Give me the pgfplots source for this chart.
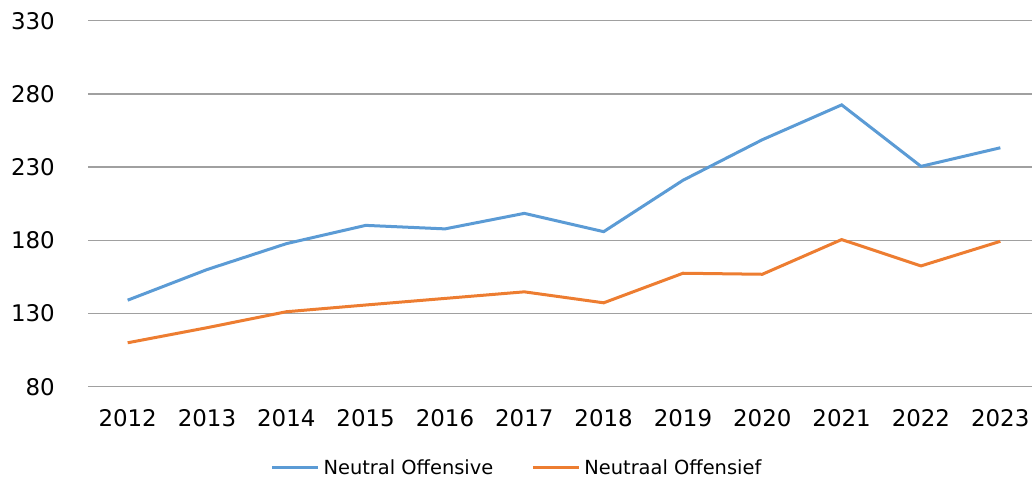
\documentclass[border=0pt]{standalone}
\usepackage{pgfplots}
\pgfplotsset{compat=1.18}
\usepackage{fontspec}
\setmainfont{DejaVu Sans}
\definecolor{cblue}{RGB}{91,155,213}
\definecolor{corange}{RGB}{237,125,49}
\definecolor{cgrid}{RGB}{160,160,160}
\begin{document}
\begin{tikzpicture}
\useasboundingbox (-88bp,-92.3bp) rectangle (944bp,386.7bp);
\begin{axis}[
  scale only axis,
  width=952bp, height=366bp,
  xmin=2011.5, xmax=2023.5,
  ymin=80, ymax=330,
  xtick={2012,...,2023},
  ytick={80,130,...,330},
  axis line style={draw=none},
  major tick length=0pt,
  ymajorgrids,
  grid style={cgrid, line width=1.3bp},
  /pgf/number format/assume math mode=true,
  xticklabel={\pgfmathprintnumber[1000 sep={}]{\tick}},
  xticklabel style={inner sep=0pt, anchor=north, yshift=-23bp, font=\fontsize{23}{27}\selectfont},
  yticklabel style={inner sep=0pt, anchor=east, xshift=-33bp, font=\fontsize{23}{27}\selectfont},
  legend columns=2,
  legend style={at={(0.4506,-0.222)}, anchor=center, draw=none, fill=none,
    font=\fontsize{19.5}{23}\selectfont,
    /tikz/every even column/.append style={column sep=36bp},
    inner sep=0pt},
  legend cell align=left,
  legend image code/.code={\draw[#1, line width=3bp] (0bp,0bp) -- (46bp,0bp);},
  clip=false,
]
\addplot[cblue, line width=3bp] coordinates {
(2012,139.1) (2013,160) (2014,177.7) (2015,190.2) (2016,187.8) (2017,198.4)
(2018,185.9) (2019,221) (2020,248.7) (2021,272.5) (2022,230.5) (2023,243.2)};
\addlegendentry{\hspace{2bp}Neutral Offensive}
\addplot[corange, line width=3bp] coordinates {
(2012,110) (2013,120.3) (2014,131.2) (2015,135.8) (2016,140.3) (2017,144.8)
(2018,137.3) (2019,157.5) (2020,156.8) (2021,180.5) (2022,162.5) (2023,179.3)};
\addlegendentry{\hspace{2bp}Neutraal Offensief}
\end{axis}
\end{tikzpicture}
\end{document}
